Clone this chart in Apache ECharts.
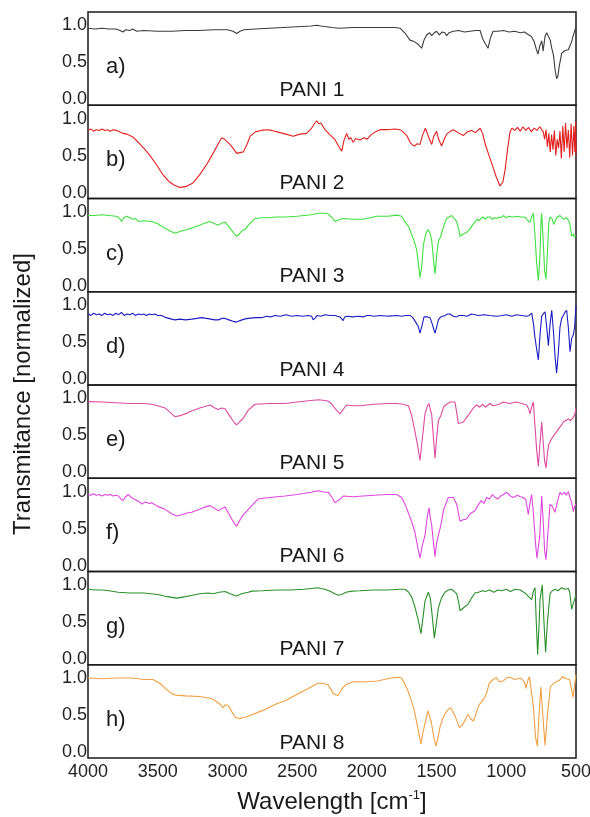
<!DOCTYPE html>
<html>
<head>
<meta charset="utf-8">
<script src="https://cdn.jsdelivr.net/npm/echarts@6/dist/echarts.min.js"></script>
<style>
html,body{margin:0;padding:0;background:#fff;}
#chart{width:590px;height:817px;}
</style>
</head>
<body>
<div id="chart"></div>
<script>
// ---- DATA ----
const xTickLabels = [4000, 3500, 3000, 2500, 2000, 1500, 1000, 500];
const yTickLabels = [0.0, 0.5, 1.0];
const panelLetters = ['a)', 'b)', 'c)', 'd)', 'e)', 'f)', 'g)', 'h)'];
const sampleNames = ['PANI 1', 'PANI 2', 'PANI 3', 'PANI 4', 'PANI 5', 'PANI 6', 'PANI 7', 'PANI 8'];

const pani1 = [[4000,0.96],[3950,0.95],[3900,0.96],[3850,0.95],[3800,0.95],[3770,0.93],[3749,0.91],[3730,0.94],[3700,0.93],[3680,0.95],[3650,0.92],[3600,0.93],[3500,0.92],[3400,0.92],[3300,0.93],[3200,0.93],[3100,0.94],[3000,0.94],[2960,0.92],[2934,0.89],[2910,0.92],[2880,0.94],[2800,0.95],[2700,0.96],[2600,0.97],[2500,0.98],[2400,0.99],[2360,1.0],[2330,0.99],[2250,0.97],[2200,0.96],[2100,0.97],[2000,0.97],[1900,0.97],[1800,0.97],[1760,0.96],[1720,0.88],[1691,0.8],[1660,0.78],[1630,0.74],[1607,0.69],[1590,0.8],[1571,0.87],[1550,0.9],[1535,0.86],[1515,0.9],[1500,0.92],[1480,0.87],[1460,0.91],[1440,0.9],[1428,0.86],[1410,0.9],[1380,0.92],[1340,0.93],[1300,0.91],[1260,0.92],[1220,0.93],[1188,0.93],[1170,0.82],[1150,0.75],[1131,0.69],[1115,0.82],[1095,0.92],[1060,0.92],[1020,0.93],[980,0.91],[940,0.92],[900,0.9],[870,0.91],[854,0.89],[840,0.88],[820,0.85],[800,0.78],[785,0.68],[773,0.61],[760,0.72],[746,0.79],[740,0.72],[736,0.65],[722,0.85],[710,0.9],[698,0.91],[685,0.8],[675,0.7],[662,0.6],[650,0.4],[639,0.28],[630,0.31],[620,0.45],[603,0.62],[590,0.63],[580,0.66],[568,0.65],[555,0.67],[545,0.66],[531,0.78],[520,0.86],[510,0.92],[500,0.97]];

const pani2 = [[4000,0.84],[3980,0.86],[3960,0.83],[3940,0.85],[3920,0.84],[3900,0.86],[3880,0.84],[3860,0.85],[3840,0.83],[3820,0.85],[3794,0.84],[3770,0.82],[3750,0.8],[3720,0.79],[3700,0.77],[3677,0.75],[3640,0.68],[3600,0.6],[3555,0.5],[3510,0.38],[3462,0.24],[3420,0.15],[3380,0.1],[3340,0.07],[3300,0.08],[3247,0.13],[3200,0.24],[3149,0.38],[3100,0.54],[3060,0.68],[3041,0.74],[3020,0.72],[2982,0.65],[2960,0.6],[2934,0.53],[2910,0.54],[2886,0.55],[2860,0.65],[2838,0.76],[2800,0.82],[2760,0.84],[2719,0.85],[2680,0.84],[2623,0.81],[2580,0.79],[2528,0.76],[2480,0.79],[2432,0.8],[2400,0.86],[2380,0.92],[2360,0.97],[2345,0.93],[2330,0.94],[2300,0.85],[2264,0.78],[2230,0.72],[2200,0.62],[2180,0.56],[2165,0.7],[2145,0.8],[2130,0.72],[2115,0.74],[2098,0.68],[2080,0.73],[2050,0.71],[2020,0.74],[2000,0.72],[1970,0.78],[1940,0.82],[1905,0.85],[1850,0.85],[1800,0.86],[1762,0.85],[1740,0.82],[1714,0.77],[1690,0.68],[1670,0.64],[1655,0.63],[1640,0.66],[1619,0.65],[1600,0.78],[1580,0.87],[1571,0.86],[1555,0.74],[1535,0.65],[1520,0.76],[1500,0.83],[1485,0.72],[1464,0.63],[1445,0.72],[1428,0.79],[1400,0.83],[1380,0.85],[1345,0.81],[1309,0.77],[1280,0.82],[1249,0.84],[1220,0.81],[1188,0.87],[1170,0.8],[1152,0.66],[1120,0.48],[1093,0.33],[1070,0.2],[1045,0.09],[1025,0.14],[1009,0.3],[990,0.6],[973,0.82],[960,0.87],[940,0.84],[920,0.88],[900,0.83],[880,0.89],[860,0.84],[840,0.88],[820,0.82],[800,0.87],[780,0.84],[760,0.89],[735,0.82],[725,0.72],[715,0.85],[705,0.62],[695,0.8],[685,0.55],[675,0.78],[665,0.58],[655,0.84],[645,0.5],[635,0.72],[625,0.6],[615,0.83],[605,0.46],[595,0.9],[585,0.55],[575,0.94],[565,0.6],[555,0.85],[545,0.47],[535,0.93],[525,0.5],[515,0.9],[508,0.55],[502,0.96],[500,0.5]];

const pani3 = [[4000,0.95],[3950,0.95],[3900,0.96],[3850,0.95],[3800,0.94],[3783,0.93],[3770,0.9],[3759,0.87],[3745,0.92],[3722,0.94],[3700,0.92],[3680,0.9],[3660,0.91],[3639,0.87],[3600,0.88],[3543,0.87],[3500,0.84],[3450,0.78],[3400,0.73],[3376,0.71],[3330,0.74],[3290,0.76],[3256,0.78],[3200,0.82],[3160,0.85],[3125,0.87],[3090,0.84],[3065,0.82],[3040,0.85],[3017,0.86],[2990,0.8],[2969,0.75],[2950,0.7],[2934,0.67],[2915,0.7],[2898,0.74],[2875,0.76],[2850,0.82],[2802,0.91],[2750,0.92],[2700,0.92],[2650,0.93],[2587,0.93],[2500,0.94],[2400,0.96],[2348,0.98],[2300,0.98],[2276,0.97],[2250,0.92],[2228,0.87],[2216,0.87],[2190,0.9],[2169,0.91],[2100,0.9],[2025,0.9],[1977,0.92],[1929,0.94],[1850,0.94],[1786,0.955],[1750,0.94],[1726,0.86],[1700,0.8],[1678,0.69],[1660,0.6],[1643,0.49],[1630,0.3],[1619,0.11],[1607,0.25],[1595,0.55],[1575,0.72],[1559,0.76],[1545,0.7],[1535,0.62],[1522,0.35],[1511,0.16],[1500,0.4],[1487,0.6],[1470,0.67],[1450,0.8],[1428,0.91],[1410,0.93],[1392,0.95],[1370,0.9],[1356,0.87],[1340,0.75],[1332,0.67],[1310,0.7],[1285,0.72],[1260,0.77],[1240,0.83],[1225,0.86],[1210,0.9],[1195,0.88],[1180,0.91],[1165,0.93],[1150,0.9],[1135,0.93],[1117,0.93],[1100,0.9],[1085,0.92],[1069,0.91],[1050,0.93],[1035,0.92],[1021,0.95],[1000,0.92],[980,0.94],[949,0.93],[920,0.94],[900,0.93],[878,0.93],[860,0.92],[845,0.88],[830,0.86],[818,0.93],[806,0.98],[795,0.7],[782,0.3],[770,0.07],[760,0.35],[750,0.9],[746,0.98],[735,0.6],[725,0.2],[715,0.09],[705,0.45],[695,0.85],[686,0.93],[670,0.9],[660,0.83],[650,0.87],[640,0.92],[626,0.93],[615,0.95],[603,0.95],[590,0.9],[579,0.88],[565,0.92],[555,0.93],[545,0.85],[531,0.67],[520,0.7],[510,0.66],[500,0.68]];

const pani4 = [[4000,0.88],[3980,0.86],[3960,0.89],[3940,0.87],[3920,0.88],[3900,0.86],[3880,0.89],[3860,0.87],[3840,0.88],[3820,0.86],[3800,0.89],[3780,0.87],[3760,0.9],[3740,0.86],[3720,0.88],[3700,0.87],[3680,0.89],[3660,0.86],[3640,0.88],[3620,0.87],[3600,0.88],[3580,0.86],[3560,0.88],[3540,0.87],[3520,0.88],[3500,0.86],[3472,0.86],[3440,0.83],[3400,0.81],[3376,0.8],[3340,0.81],[3300,0.8],[3256,0.81],[3220,0.82],[3185,0.83],[3150,0.82],[3120,0.81],[3090,0.8],[3065,0.8],[3040,0.82],[3017,0.82],[2990,0.8],[2960,0.78],[2934,0.77],[2910,0.79],[2880,0.81],[2850,0.82],[2800,0.83],[2755,0.83],[2720,0.85],[2690,0.84],[2659,0.86],[2620,0.85],[2580,0.87],[2540,0.85],[2500,0.86],[2460,0.85],[2420,0.86],[2396,0.85],[2385,0.8],[2377,0.78],[2368,0.83],[2358,0.86],[2348,0.88],[2330,0.85],[2300,0.87],[2264,0.86],[2230,0.86],[2193,0.84],[2180,0.82],[2169,0.79],[2160,0.84],[2140,0.85],[2100,0.84],[2060,0.85],[2025,0.84],[2000,0.86],[1977,0.86],[1950,0.85],[1900,0.86],[1850,0.85],[1786,0.86],[1750,0.85],[1720,0.86],[1690,0.86],[1670,0.83],[1650,0.77],[1631,0.71],[1619,0.62],[1605,0.72],[1590,0.84],[1583,0.86],[1565,0.84],[1547,0.83],[1530,0.74],[1518,0.66],[1511,0.62],[1500,0.7],[1487,0.8],[1470,0.84],[1440,0.86],[1420,0.88],[1404,0.88],[1380,0.85],[1356,0.84],[1340,0.86],[1309,0.86],[1280,0.85],[1250,0.88],[1237,0.87],[1200,0.86],[1160,0.87],[1120,0.86],[1069,0.85],[1030,0.86],[1000,0.87],[960,0.85],[926,0.87],[890,0.86],[854,0.85],[835,0.86],[818,0.89],[805,0.75],[795,0.57],[782,0.4],[770,0.26],[758,0.6],[746,0.85],[735,0.88],[722,0.91],[710,0.7],[698,0.45],[686,0.75],[674,0.93],[660,0.6],[650,0.3],[639,0.08],[627,0.35],[615,0.7],[603,0.82],[591,0.86],[580,0.9],[567,0.93],[555,0.7],[543,0.37],[531,0.55],[519,0.6],[510,0.7],[505,0.85],[500,0.99]];

const pani5 = [[4000,0.956],[3900,0.95],[3800,0.94],[3700,0.93],[3600,0.93],[3543,0.92],[3500,0.9],[3448,0.87],[3410,0.81],[3376,0.75],[3330,0.77],[3290,0.8],[3256,0.83],[3200,0.87],[3160,0.89],[3125,0.91],[3090,0.87],[3065,0.85],[3040,0.87],[3017,0.86],[2990,0.78],[2969,0.72],[2950,0.67],[2934,0.64],[2915,0.68],[2890,0.72],[2850,0.84],[2802,0.92],[2700,0.93],[2587,0.93],[2500,0.95],[2400,0.97],[2348,0.98],[2300,0.97],[2276,0.96],[2250,0.92],[2228,0.86],[2193,0.79],[2170,0.85],[2145,0.91],[2100,0.9],[2049,0.9],[1950,0.92],[1850,0.93],[1786,0.93],[1740,0.92],[1702,0.9],[1680,0.78],[1655,0.55],[1635,0.35],[1619,0.16],[1605,0.4],[1583,0.79],[1565,0.9],[1554,0.93],[1545,0.85],[1535,0.78],[1522,0.45],[1511,0.19],[1500,0.45],[1487,0.7],[1470,0.76],[1450,0.88],[1428,0.92],[1400,0.95],[1368,0.95],[1355,0.8],[1344,0.66],[1325,0.67],[1309,0.68],[1285,0.74],[1261,0.8],[1240,0.86],[1213,0.91],[1190,0.88],[1170,0.92],[1150,0.88],[1117,0.93],[1100,0.9],[1069,0.91],[1040,0.93],[1021,0.95],[980,0.93],[926,0.95],[890,0.93],[854,0.91],[840,0.86],[830,0.79],[818,0.88],[806,0.95],[795,0.65],[782,0.3],[770,0.08],[758,0.4],[746,0.68],[735,0.4],[725,0.15],[715,0.06],[705,0.25],[695,0.38],[686,0.41],[670,0.47],[650,0.52],[639,0.55],[620,0.6],[603,0.64],[591,0.68],[575,0.7],[555,0.72],[540,0.7],[531,0.68],[520,0.74],[507,0.79],[500,0.88]];

const pani6 = [[4000,0.96],[3980,0.95],[3960,0.97],[3940,0.95],[3920,0.96],[3900,0.94],[3880,0.96],[3860,0.95],[3840,0.96],[3820,0.94],[3800,0.95],[3783,0.94],[3765,0.9],[3747,0.88],[3730,0.93],[3710,0.96],[3690,0.92],[3670,0.9],[3650,0.88],[3630,0.86],[3615,0.83],[3590,0.86],[3560,0.84],[3543,0.85],[3500,0.8],[3448,0.76],[3400,0.7],[3364,0.67],[3320,0.69],[3290,0.71],[3256,0.72],[3200,0.76],[3160,0.79],[3125,0.81],[3090,0.77],[3065,0.74],[3040,0.77],[3017,0.79],[2990,0.7],[2969,0.63],[2950,0.57],[2934,0.53],[2915,0.6],[2890,0.68],[2850,0.76],[2800,0.86],[2779,0.9],[2700,0.92],[2587,0.94],[2500,0.96],[2400,0.99],[2348,1.01],[2300,0.99],[2276,0.99],[2250,0.92],[2228,0.85],[2216,0.83],[2190,0.9],[2169,0.94],[2100,0.93],[2025,0.94],[1950,0.95],[1850,0.96],[1786,0.96],[1750,0.92],[1720,0.8],[1700,0.7],[1678,0.59],[1655,0.45],[1635,0.25],[1619,0.1],[1605,0.25],[1583,0.41],[1565,0.68],[1554,0.78],[1545,0.65],[1535,0.54],[1522,0.3],[1511,0.12],[1500,0.3],[1487,0.41],[1470,0.54],[1450,0.75],[1416,0.92],[1380,0.92],[1356,0.83],[1332,0.6],[1310,0.62],[1285,0.63],[1260,0.7],[1225,0.74],[1200,0.82],[1180,0.88],[1160,0.84],[1141,0.92],[1120,0.9],[1100,0.96],[1080,0.92],[1060,0.9],[1040,0.94],[1020,0.96],[997,0.99],[970,0.94],[950,0.92],[920,0.95],[900,0.93],[878,0.92],[860,0.89],[842,0.69],[830,0.85],[818,0.96],[805,0.7],[790,0.3],[780,0.1],[770,0.08],[760,0.4],[746,0.94],[735,0.6],[725,0.2],[715,0.08],[705,0.35],[686,0.83],[670,0.8],[650,0.72],[635,0.85],[615,0.99],[603,0.96],[591,0.96],[580,0.99],[570,0.95],[555,1.0],[543,0.92],[530,0.84],[519,0.73],[510,0.8],[500,0.83]];

const pani7 = [[4000,0.94],[3950,0.93],[3900,0.93],[3850,0.92],[3783,0.9],[3700,0.89],[3600,0.89],[3500,0.87],[3430,0.84],[3364,0.82],[3300,0.84],[3250,0.86],[3200,0.88],[3137,0.89],[3100,0.88],[3060,0.9],[3017,0.91],[2980,0.88],[2950,0.86],[2934,0.85],[2900,0.88],[2850,0.9],[2826,0.915],[2750,0.92],[2650,0.93],[2550,0.93],[2450,0.94],[2400,0.95],[2348,0.96],[2330,0.95],[2300,0.94],[2260,0.91],[2230,0.88],[2204,0.86],[2180,0.87],[2150,0.9],[2109,0.915],[2050,0.92],[1950,0.93],[1850,0.93],[1760,0.94],[1726,0.94],[1700,0.9],[1678,0.83],[1655,0.7],[1631,0.52],[1612,0.34],[1598,0.55],[1583,0.78],[1559,0.9],[1545,0.82],[1535,0.65],[1516,0.28],[1500,0.5],[1487,0.69],[1465,0.82],[1440,0.9],[1416,0.93],[1392,0.94],[1356,0.88],[1340,0.75],[1332,0.65],[1300,0.7],[1273,0.74],[1250,0.82],[1225,0.89],[1200,0.9],[1170,0.92],[1152,0.91],[1120,0.93],[1090,0.9],[1060,0.93],[1033,0.92],[1000,0.94],[970,0.91],[938,0.94],[900,0.93],[866,0.89],[840,0.84],[818,0.8],[805,0.92],[794,0.96],[785,0.5],[775,0.06],[765,0.45],[758,0.8],[742,1.0],[730,0.5],[718,0.09],[705,0.5],[686,0.88],[670,0.92],[650,0.94],[630,0.92],[603,0.96],[580,0.94],[555,0.95],[545,0.9],[531,0.67],[519,0.75],[507,0.82],[500,0.87]];

const pani8 = [[4000,1.0],[3900,0.99],[3800,1.0],[3690,1.0],[3600,0.98],[3535,0.98],[3485,0.93],[3440,0.85],[3400,0.79],[3371,0.77],[3300,0.76],[3200,0.75],[3133,0.73],[3100,0.71],[3070,0.67],[3050,0.64],[3032,0.6],[3015,0.64],[2994,0.63],[2970,0.55],[2944,0.47],[2910,0.45],[2890,0.47],[2868,0.47],[2831,0.5],[2750,0.56],[2650,0.65],[2579,0.7],[2500,0.78],[2420,0.86],[2353,0.93],[2320,0.93],[2278,0.91],[2240,0.79],[2208,0.76],[2180,0.85],[2152,0.91],[2100,0.95],[2000,0.95],[1926,0.96],[1825,1.0],[1775,1.01],[1750,1.0],[1712,0.86],[1690,0.75],[1662,0.58],[1637,0.35],[1612,0.11],[1600,0.25],[1587,0.35],[1562,0.56],[1537,0.4],[1520,0.2],[1504,0.08],[1490,0.2],[1474,0.35],[1450,0.48],[1424,0.56],[1399,0.6],[1370,0.5],[1336,0.33],[1310,0.38],[1274,0.51],[1255,0.45],[1236,0.42],[1220,0.5],[1198,0.63],[1160,0.72],[1140,0.8],[1123,0.93],[1100,0.97],[1073,1.01],[1050,0.95],[1023,0.96],[1000,1.0],[972,1.01],[940,0.98],[897,1.0],[870,0.95],[859,0.86],[845,0.97],[834,1.02],[822,1.0],[805,0.6],[790,0.2],[777,0.08],[765,0.5],[752,0.88],[738,0.5],[722,0.09],[705,0.5],[684,0.88],[660,0.93],[646,0.95],[620,0.97],[596,1.02],[570,0.99],[546,0.98],[532,0.85],[521,0.74],[510,0.9],[500,1.05]];

const spectra = [pani1, pani2, pani3, pani4, pani5, pani6, pani7, pani8];
const lineColors = ['#3c3c3c', '#e21f1f', '#3fe03f', '#1c1cc4', '#dc4aa0', '#df45df', '#2b8f2b', '#f0a043'];

// ---- LAYOUT ----
const FONT = '"Liberation Sans", Arial, sans-serif';
const plotLeft = 88, plotRight = 576, plotTop = 12, plotBottom = 758;
const nP = spectra.length;
const panelH = (plotBottom - plotTop) / nP;

const grids = [], xAxes = [], yAxes = [], series = [], graphics = [];
for (let i = 0; i < nP; i++) {
  const top = plotTop + i * panelH;
  const last = i === nP - 1;
  grids.push({
    left: plotLeft, width: plotRight - plotLeft, top: top, height: panelH,
    containLabel: false, outerBoundsMode: 'none',
    show: true, borderColor: '#1a1a1a', borderWidth: 1.5, backgroundColor: 'transparent'
  });
  xAxes.push({
    type: 'value', gridIndex: i, inverse: true,
    min: xTickLabels[xTickLabels.length - 1], max: xTickLabels[0], interval: 500,
    axisLine: { show: false }, axisTick: { show: false }, splitLine: { show: false },
    axisLabel: {
      show: last, fontFamily: FONT, fontSize: 18, color: '#222', margin: 5,
      showMinLabel: true, showMaxLabel: true, hideOverlap: false,
      formatter: v => String(v)
    }
  });
  yAxes.push({
    type: 'value', gridIndex: i, min: -0.08, max: 1.18,
    axisLine: { show: false }, axisTick: { show: false }, splitLine: { show: false },
    axisLabel: {
      fontFamily: FONT, fontSize: 18, color: '#222', margin: 1,
      customValues: yTickLabels,
      formatter: v => Number(v).toFixed(1)
    }
  });
  series.push({
    type: 'line', xAxisIndex: i, yAxisIndex: i, data: spectra[i],
    showSymbol: false, symbol: 'none', smooth: false, animation: false,
    lineStyle: { color: lineColors[i], width: 1.1 }
  });
  graphics.push({
    type: 'text', x: 106, y: top + 55, silent: true,
    style: { text: panelLetters[i], font: '22px ' + FONT, fill: '#1a1a1a',
             textAlign: 'left', textVerticalAlign: 'middle', align: 'left', verticalAlign: 'middle' }
  });
  graphics.push({
    type: 'text', x: 312, y: top + 78, silent: true,
    style: { text: sampleNames[i], font: '21px ' + FONT, fill: '#1a1a1a',
             textAlign: 'center', textVerticalAlign: 'middle', align: 'center', verticalAlign: 'middle' }
  });
}

graphics.push({
  type: 'text', x: 332, y: 802, silent: true,
  style: {
    text: '{a|Wavelength [cm}{s|-1}{a|]}',
    textAlign: 'center', textVerticalAlign: 'middle', align: 'center', verticalAlign: 'middle',
    fill: '#1a1a1a',
    rich: {
      a: { fontFamily: FONT, fontSize: 24, fill: '#1a1a1a', color: '#1a1a1a' },
      s: { fontFamily: FONT, fontSize: 13, fill: '#1a1a1a', color: '#1a1a1a', padding: [0, 0, 13, 0] }
    }
  }
});
graphics.push({
  type: 'text', x: 23, y: 394, rotation: Math.PI / 2, silent: true,
  style: {
    text: 'Transmitance [normalized]', font: '24px ' + FONT, fill: '#1a1a1a',
    textAlign: 'center', textVerticalAlign: 'middle', align: 'center', verticalAlign: 'middle'
  }
});

const chart = echarts.init(document.getElementById('chart'), null, { renderer: 'canvas' });
chart.setOption({
  animation: false,
  backgroundColor: '#fff',
  grid: grids, xAxis: xAxes, yAxis: yAxes, series: series,
  graphic: graphics
});
</script>
</body>
</html>
